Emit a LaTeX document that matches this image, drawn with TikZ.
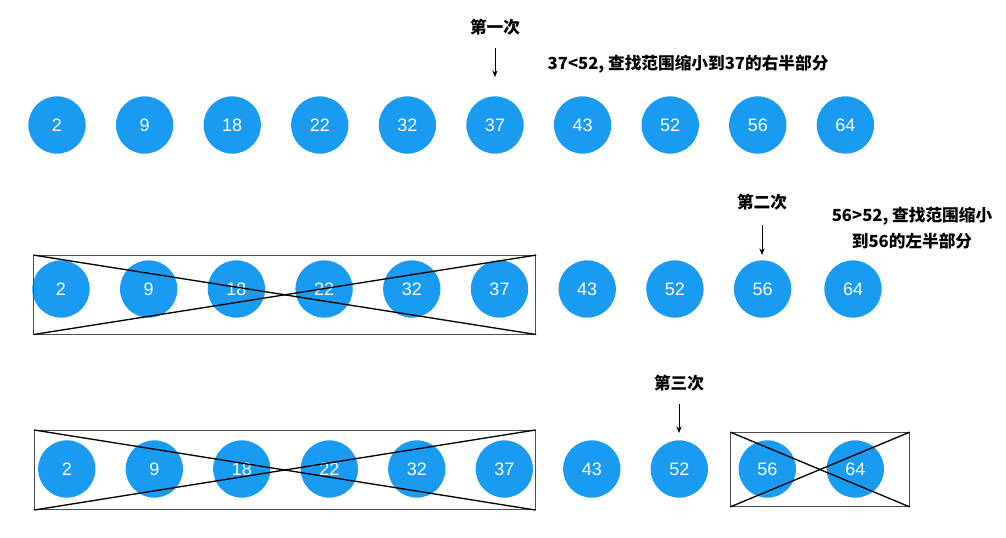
\documentclass[tikz,border=0pt]{standalone}
\usepackage{fontspec}
\setmainfont{Noto Sans CJK SC}
\newfontfamily\numfont{Liberation Sans}
\usetikzlibrary{arrows.meta}
\definecolor{ballblue}{RGB}{24,155,240}
\tikzset{
  ball/.style={circle, fill=ballblue, minimum size=43pt, inner sep=0pt, text=white, font=\numfont\fontsize{13.5}{15}\selectfont},
  note/.style={font=\bfseries\fontsize{12.5}{19}\selectfont, align=center},
  outbox/.style={draw=black!70, line width=0.6pt, inner sep=0pt},
  cross/.style={line width=1pt},
  arr/.style={-{Stealth[length=5pt,width=4pt]}, line width=0.6pt}
}
\begin{document}
\begin{tikzpicture}[x=0.75pt, y=-0.75pt]
  \useasboundingbox (0,0) rectangle (1006,537);
  % first pass
  \node[ball] (a1) at (57,125) {2};
  \node[ball] (a2) at (144.6,125) {9};
  \node[ball] (a3) at (232.2,125) {18};
  \node[ball] (a4) at (319.8,125) {22};
  \node[ball] (a5) at (407.4,125) {32};
  \node[ball] (a6) at (495,125) {37};
  \node[ball] (a7) at (582.6,125) {43};
  \node[ball] (a8) at (670.2,125) {52};
  \node[ball] (a9) at (757.8,125) {56};
  \node[ball] (a10) at (845.4,125) {64};
  \node[note] (t1) at (495,27) {第一次};
  \node[note, anchor=west] (n1) at (543,64) {37<52, 查找范围缩小到37的右半部分};
  \coordinate (t1s) at (495,48);
  \coordinate (t1e) at (495,77);
  \draw[arr] (t1s) -- (t1e);
  % second pass
  \node[ball] (b1) at (61,289) {2};
  \node[ball] (b2) at (148.7,289) {9};
  \node[ball] (b3) at (236.4,289) {18};
  \node[ball] (b4) at (324.1,289) {22};
  \node[ball] (b5) at (411.8,289) {32};
  \node[ball] (b6) at (499.5,289) {37};
  \node[ball] (b7) at (587.2,289) {43};
  \node[ball] (b8) at (674.9,289) {52};
  \node[ball] (b9) at (762.6,289) {56};
  \node[ball] (b10) at (853,289) {64};
  \node[outbox, minimum width=376.5pt, minimum height=59pt] (box2) at (284.8,294.8) {};
  \draw[cross] (box2.north west) -- (box2.south east);
  \draw[cross] (box2.south west) -- (box2.north east);
  \node[note] (t2) at (762,202) {第二次};
  \node[note] (n2) at (912,228) {56>52, 查找范围缩小\\到56的左半部分};
  \coordinate (t2s) at (762,225);
  \coordinate (t2e) at (762,255);
  \draw[arr] (t2s) -- (t2e);
  % third pass
  \node[ball] (c1) at (66.8,469) {2};
  \node[ball] (c2) at (154.3,469) {9};
  \node[ball] (c3) at (241.8,469) {18};
  \node[ball] (c4) at (329.3,469) {22};
  \node[ball] (c5) at (416.8,469) {32};
  \node[ball] (c6) at (504.3,469) {37};
  \node[ball] (c7) at (591.8,469) {43};
  \node[ball] (c8) at (679.3,469) {52};
  \node[ball] (c9) at (767.3,469) {56};
  \node[ball] (c10) at (855.3,469) {64};
  \node[outbox, minimum width=375.75pt, minimum height=59.5pt] (box3) at (284.8,470) {};
  \draw[cross] (box3.north west) -- (box3.south east);
  \draw[cross] (box3.south west) -- (box3.north east);
  \node[outbox, minimum width=134pt, minimum height=55.5pt] (box4) at (820,469.5) {};
  \draw[cross] (box4.north west) -- (box4.south east);
  \draw[cross] (box4.south west) -- (box4.north east);
  \node[note] (t3) at (679,383) {第三次};
  \coordinate (t3s) at (679,404);
  \coordinate (t3e) at (679,433);
  \draw[arr] (t3s) -- (t3e);
\end{tikzpicture}
\end{document}
